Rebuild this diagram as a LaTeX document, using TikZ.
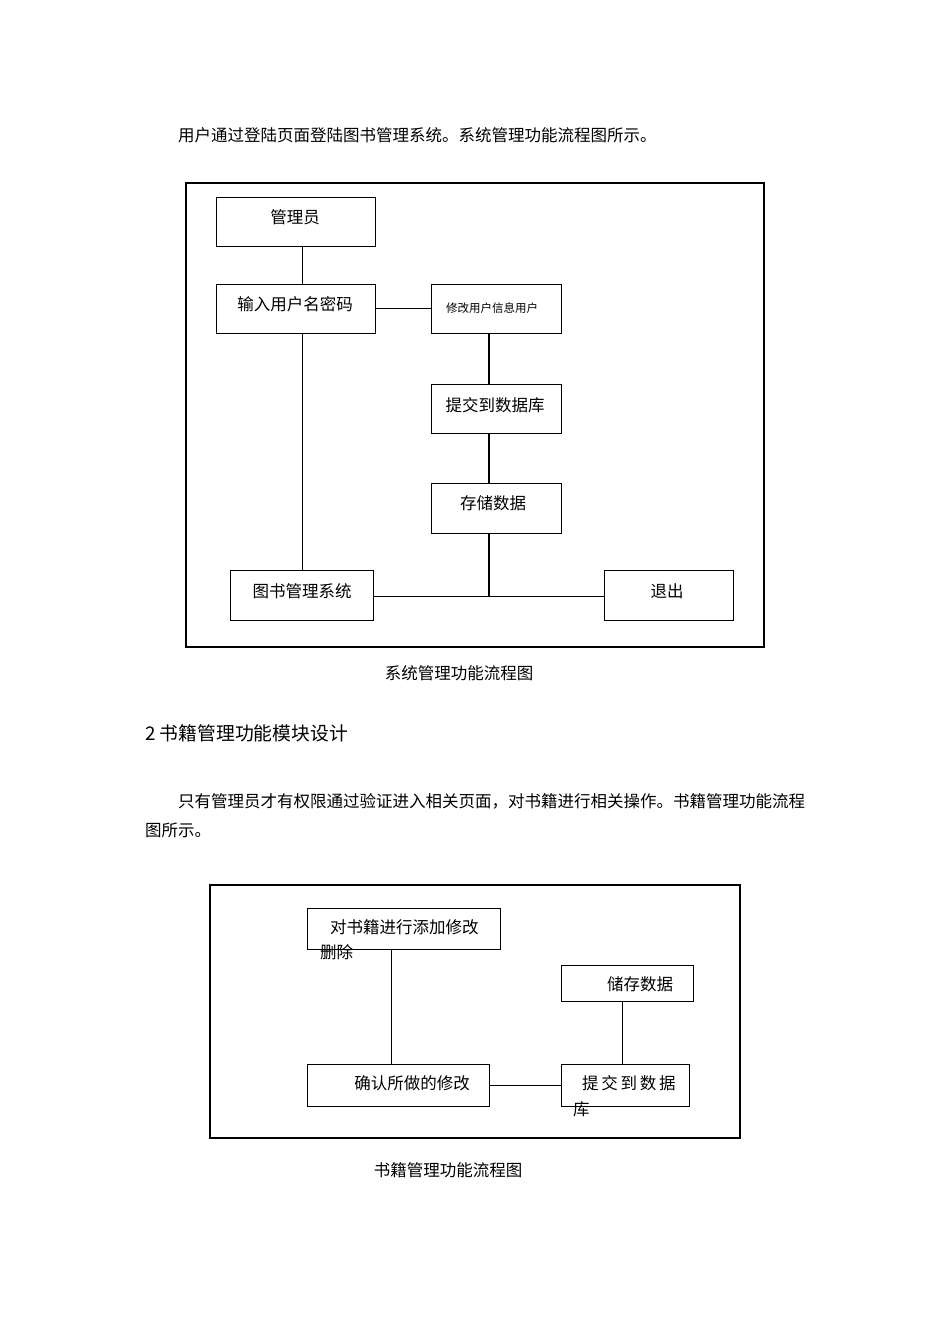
\documentclass[tikz,border=0pt]{standalone}
\usepackage{fontspec}
\setmainfont{Noto Sans CJK SC}
\begin{document}
\begin{tikzpicture}[x=1pt,y=-1pt,
  bx/.style={draw,line width=1pt,inner sep=0},
  tx/.style={font=\fontsize{16.5}{16.5}\selectfont,inner sep=0},
  ln/.style={line width=1pt}]
\useasboundingbox (0,0) rectangle (950,1344);
\node[tx,anchor=west] (p1) at (178,135) {用户通过登陆页面登陆图书管理系统。系统管理功能流程图所示。};
\draw[line width=2pt] (186,183) rectangle (764,647);
\draw[bx] (216,197) rectangle (375,246);
\node[tx] (a) at (295,217) {管理员};
\draw[bx] (216,284) rectangle (375,333);
\node[tx] (b) at (295,304) {输入用户名密码};
\draw[bx] (431,284) rectangle (561,333);
\node[tx,font=\fontsize{11.5}{11.5}\selectfont] (c) at (492,308) {修改用户信息用户};
\draw[bx] (431,384) rectangle (561,433);
\node[tx] (d) at (495,405) {提交到数据库};
\draw[bx] (431,483) rectangle (561,533);
\node[tx] (e) at (493,503) {存储数据};
\draw[bx] (230,570) rectangle (373,620);
\node[tx] (f) at (302,591) {图书管理系统};
\draw[bx] (604,570) rectangle (733,620);
\node[tx] (g) at (667,591) {退出};
\draw[ln] (302,246) -- (302,284);
\draw[ln] (302,333) -- (302,570);
\draw[ln] (375,308) -- (431,308);
\draw[line width=1.5pt] (489,333) -- (489,384) (489,433) -- (489,483) (489,533) -- (489,596);
\draw[ln] (373,596) -- (604,596);
\node[tx] (cap1) at (459,673) {系统管理功能流程图};
\node[tx,anchor=west,font=\fontsize{18.8}{18.8}\selectfont] (h2) at (145,733) {2 书籍管理功能模块设计};
\node[tx,anchor=west] (p2) at (178,801) {只有管理员才有权限通过验证进入相关页面，对书籍进行相关操作。书籍管理功能流程};
\node[tx,anchor=west] (p3) at (145,830) {图所示。};
\draw[line width=2pt] (210,885) rectangle (740,1138);
\draw[bx] (307,908) rectangle (500,949);
\node[tx,anchor=west] (k1) at (330,927) {对书籍进行添加修改};
\node[tx,anchor=west] (k1b) at (320,952) {删除};
\draw[bx] (561,965) rectangle (693,1001);
\node[tx] (k2) at (640,984) {储存数据};
\draw[bx] (307,1064) rectangle (489,1106);
\node[tx] (k3) at (412,1083) {确认所做的修改};
\draw[bx] (561,1064) rectangle (689,1106);
\node[tx,anchor=west] (k4) at (582,1083) {提\,交\,到\,数\,据};
\node[tx,anchor=west] (k4b) at (573,1109) {库};
\draw[ln] (391,949) -- (391,1064);
\draw[ln] (622,1001) -- (622,1064);
\draw[ln] (489,1085) -- (561,1085);
\node[tx] (cap2) at (448,1170) {书籍管理功能流程图};
\end{tikzpicture}
\end{document}
